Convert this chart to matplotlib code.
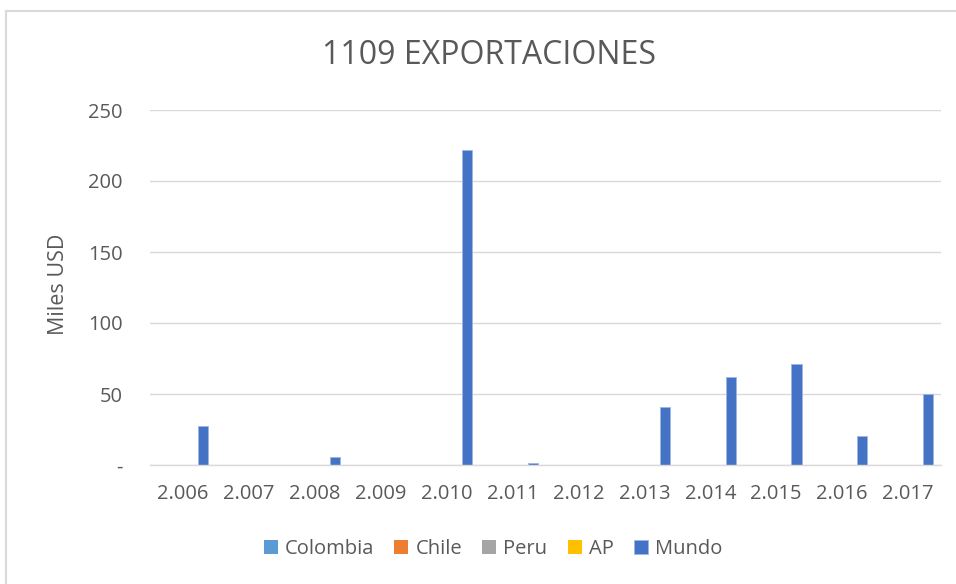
import matplotlib
matplotlib.use("Agg")
import matplotlib.pyplot as plt
import numpy as np
from matplotlib.lines import Line2D

plt.rcParams['font.family'] = ['Open Sans', 'DejaVu Sans']

years = ["2.006", "2.007", "2.008", "2.009", "2.010", "2.011",
         "2.012", "2.013", "2.014", "2.015", "2.016", "2.017"]
series_names = ["Colombia", "Chile", "Peru", "AP", "Mundo"]
colombia = [0] * 12
chile = [0] * 12
peru = [0] * 12
ap = [0] * 12
mundo = [27.5, 0, 5.6, 0, 222, 1.4, 0, 41, 62, 71, 20.5, 50.2]
series_values = [colombia, chile, peru, ap, mundo]
colors = ["#5B9BD5", "#ED7D31", "#A5A5A5", "#FFC000", "#4472C4"]

fig = plt.figure(figsize=(9.56, 5.84), dpi=100)
W, H = 956, 584
ax = fig.add_axes([150 / W, (H - 465) / H, (941 - 150) / W, (465 - 110) / H])

x = np.arange(len(years))
n = len(series_names)
bw = 1.0 / (n + 1.5)
for i, (name, vals, c) in enumerate(zip(series_names, series_values, colors)):
    ax.bar(x + (i - (n - 1) / 2) * bw, vals, width=bw, color=c, label=name,
           edgecolor="#9DB6E3" if name == "Mundo" else "none", linewidth=0.6)

ax.set_xlim(-0.5, len(years) - 0.5)
ax.set_ylim(0, 250)
ax.set_yticks([0, 50, 100, 150, 200, 250])
ax.set_yticklabels(["-", "50", "100", "150", "200", "250"])
ax.set_xticks(x)
ax.set_xticklabels(years)
ax.tick_params(axis='both', length=0, labelsize=14.5, colors="#595959")
ax.tick_params(axis='y', pad=19.5)
ax.tick_params(axis='x', pad=14)
ax.grid(axis='y', color="#D9D9D9", linewidth=1)
ax.set_axisbelow(True)
for s in ["top", "right", "left"]:
    ax.spines[s].set_visible(False)
ax.spines["bottom"].set_color("#D9D9D9")
ax.spines["bottom"].set_linewidth(1)

fig.text(58 / W, 1 - 284 / H, "Miles USD", rotation=90, ha="center", va="center",
         fontsize=15.5, color="#595959")
fig.text(489 / W, 1 - 55 / H, "1109 EXPORTACIONES", ha="center", va="center",
         fontsize=23, color="#595959")

leg = fig.legend(loc="center", bbox_to_anchor=(493 / W, 1 - 549 / H), ncol=5,
                 frameon=False, fontsize=14.5, handlelength=0.7, handleheight=0.7,
                 handletextpad=0.35, columnspacing=1.0)
for t in leg.get_texts():
    t.set_color("#595959")

fig.lines.append(Line2D([6 / W, 6 / W], [0, 1 - 11 / H], transform=fig.transFigure,
                        color="#D9D9D9", linewidth=1.5))
fig.lines.append(Line2D([6 / W, 1], [1 - 11 / H, 1 - 11 / H], transform=fig.transFigure,
                        color="#D9D9D9", linewidth=1.5))

fig.savefig("out.png", dpi=100)
